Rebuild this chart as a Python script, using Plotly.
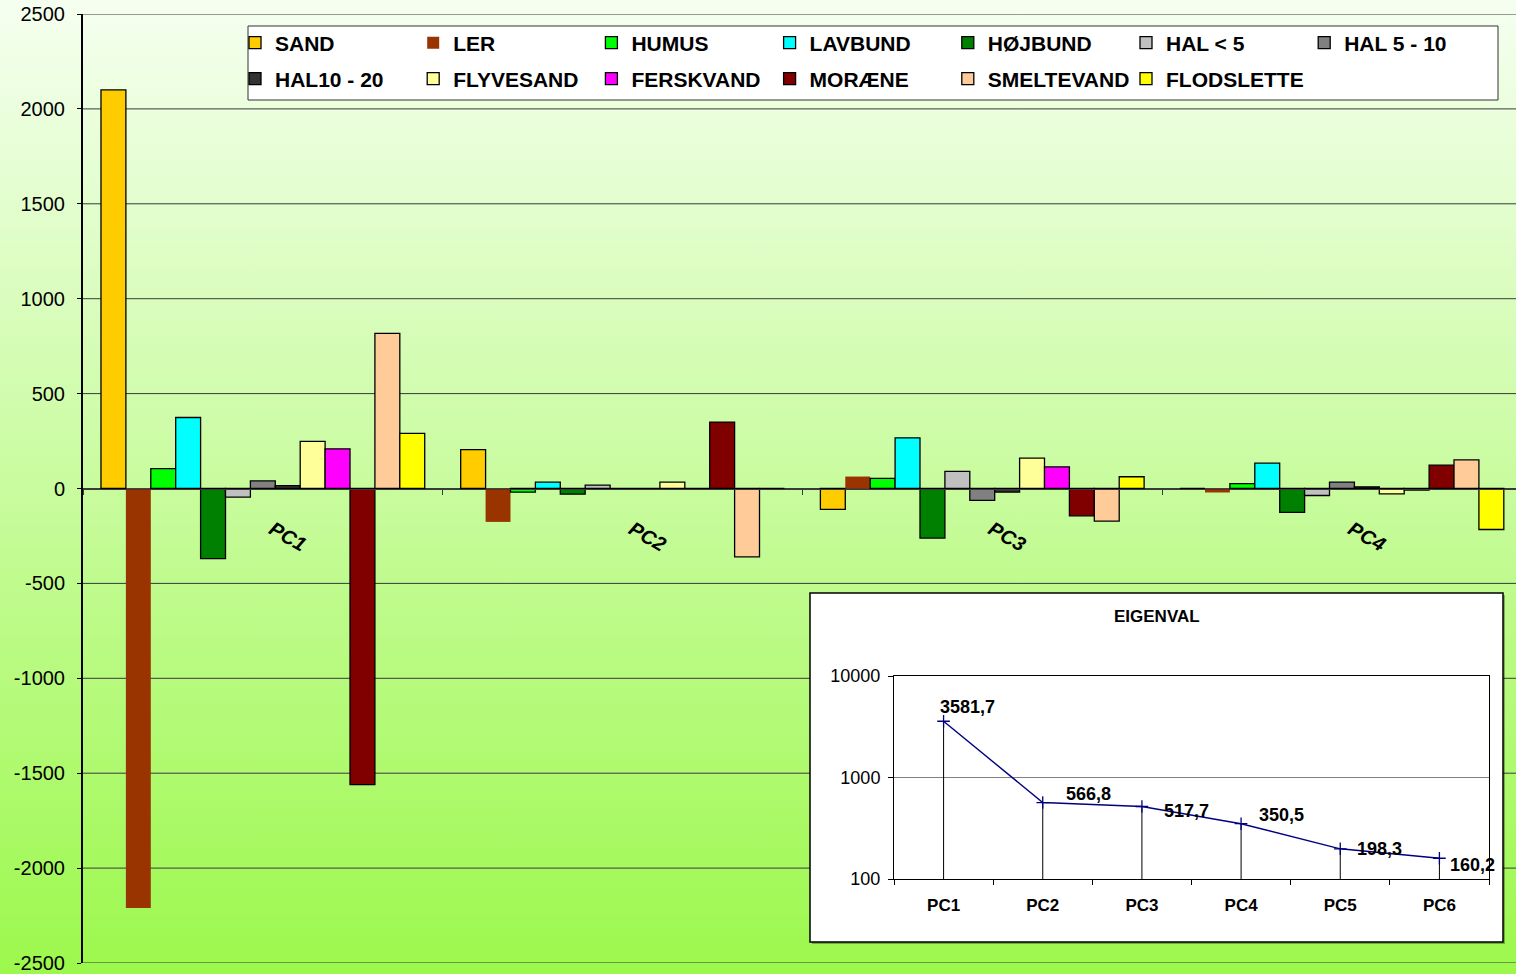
import base64
import math
import plotly.graph_objects as go

# ---------------- data ----------------
components = ["PC1", "PC2", "PC3", "PC4"]
series_names = ["SAND", "LER", "HUMUS", "LAVBUND", "HØJBUND", "HAL < 5", "HAL 5 - 10",
                "HAL10 - 20", "FLYVESAND", "FERSKVAND", "MORÆNE", "SMELTEVAND", "FLODSLETTE"]
sand = [2100, 205, -110, 0]
ler = [-2210, -176, 63, -21]
humus = [105, -19, 53, 26]
lavbund = [374, 34, 267, 134]
hojbund = [-369, -30, -261, -126]
hal_lt5 = [-45, 18, 90, -37]
hal_5_10 = [40, 0, -63, 34]
hal_10_20 = [15, 0, -19, 9]
flyvesand = [248, 34, 160, -28]
ferskvand = [209, 0, 114, -8]
moraene = [-1560, 350, -144, 123]
smeltevand = [817, -360, -172, 151]
flodslette = [290, 0, 62, -216]
series_values = [sand, ler, humus, lavbund, hojbund, hal_lt5, hal_5_10,
                 hal_10_20, flyvesand, ferskvand, moraene, smeltevand, flodslette]

y_ticks = [-2500, -2000, -1500, -1000, -500, 0, 500, 1000, 1500, 2000, 2500]
y_tick_labels = ["-2500", "-2000", "-1500", "-1000", "-500", "0", "500", "1000", "1500", "2000", "2500"]

eig_components = ["PC1", "PC2", "PC3", "PC4", "PC5", "PC6"]
eig_values = [3581.7, 566.8, 517.7, 350.5, 198.3, 160.2]
eig_ticks = [100, 1000, 10000]
eig_tick_labels = ["100", "1000", "10000"]

# ---------------- styles ----------------
colors = ["#FFCC00", "#993300", "#00FF00", "#00FFFF", "#008000", "#C0C0C0", "#808080",
          "#333333", "#FFFF99", "#FF00FF", "#800000", "#FFCC99", "#FFFF00"]
FONT = "Arial, Liberation Sans, sans-serif"
# data-label offsets (pixels) in the inset
label_xshift = [-6, 21, 20, 16, 15, 9]
label_yshift = [14, 9, -4, 9, 0, -7]

W, H = 1516, 974
ML, MR, MT, MB = 83, 0, 14, 11
PW, PH = W - ML - MR, H - MT - MB


def px_x(p):
    return (p - ML) / PW


def px_y(p):
    return (H - MB - p) / PH


# legend layout: 7 columns per row, split in groups of at most 4 entries
COL_W = 178.2
LEG_X0 = 235
ROW_Y = [43, 79]
legend_groups = {  # legend id -> (row, first column)
    "legend": (0, 0), "legend2": (0, 4), "legend3": (1, 0), "legend4": (1, 4)}


def legend_of(i):
    row, col = divmod(i, 7)
    return ("legend" if col < 4 else "legend2") if row == 0 else ("legend3" if col < 4 else "legend4")


fig = go.Figure()

for i, (name, vals, col) in enumerate(zip(series_names, series_values, colors)):
    fig.add_trace(go.Bar(
        name=name, x=components, y=vals, legend=legend_of(i),
        marker=dict(color=col, line=dict(color="black" if name != "LER" else col,
                                         width=1.3 if name != "LER" else 0)),
        xaxis="x", yaxis="y",
    ))

# eigenvalue inset
fig.add_trace(go.Scatter(
    x=eig_components, y=eig_values, xaxis="x2", yaxis="y2",
    mode="lines+markers", showlegend=False,
    line=dict(color="#000080", width=1.4),
    marker=dict(symbol="cross-thin", size=9, color="#000080",
                line=dict(color="#000080", width=1.3)),
    error_y=dict(type="data", symmetric=False, array=[0] * len(eig_values),
                 arrayminus=[v - eig_ticks[0] for v in eig_values],
                 color="black", thickness=1, width=0),
))

annotations = [dict(text="<b>EIGENVAL</b>", xref="paper", yref="paper",
                    x=px_x(1157), y=px_y(616), xanchor="center", yanchor="middle",
                    showarrow=False, font=dict(family=FONT, size=17, color="black"))]
for c, v, dx, dy in zip(eig_components, eig_values, label_xshift, label_yshift):
    annotations.append(dict(
        text="<b>" + f"{v:.1f}".replace(".", ",") + "</b>", xref="x2", yref="y2",
        x=c, y=math.log10(v), xanchor="left", yanchor="middle", xshift=dx, yshift=dy,
        showarrow=False, font=dict(family=FONT, size=18, color="black")))

# gradient background image
svg = ('<svg xmlns="http://www.w3.org/2000/svg" width="100" height="100" preserveAspectRatio="none">'
       '<defs><linearGradient id="g" x1="0" y1="0" x2="0" y2="1">'
       '<stop offset="0" stop-color="#F5FFF0"/><stop offset="1" stop-color="#9CF84C"/>'
       '</linearGradient></defs><rect width="100" height="100" fill="url(#g)"/></svg>')
src = "data:image/svg+xml;base64," + base64.b64encode(svg.encode()).decode()
fig.add_layout_image(dict(source=src, xref="paper", yref="paper",
                          x=-ML / PW, y=1 + MT / PH, sizex=W / PW, sizey=H / PH,
                          xanchor="left", yanchor="top", sizing="stretch", layer="below"))

shapes = []
for v in y_ticks:
    shapes.append(dict(type="line", xref="paper", yref="y", x0=0, x1=1, y0=v, y1=v,
                       line=dict(color="#3A3A3A", width=1), layer="below"))
# legend frame
shapes.append(dict(type="rect", xref="paper", yref="paper",
                   x0=px_x(248), x1=px_x(1498), y0=px_y(100), y1=px_y(26),
                   fillcolor="white", line=dict(color="#333333", width=1), layer="below"))
# inset frame with slight shadow
shapes.append(dict(type="rect", xref="paper", yref="paper",
                   x0=px_x(812), x1=px_x(1505), y0=px_y(944), y1=px_y(595),
                   fillcolor="rgba(0,0,0,0.3)", line=dict(width=0), layer="below"))
shapes.append(dict(type="rect", xref="paper", yref="paper",
                   x0=px_x(810), x1=px_x(1503), y0=px_y(942), y1=px_y(593),
                   fillcolor="white", line=dict(color="black", width=1.5), layer="below"))

legend_common = dict(orientation="h", xanchor="left", yanchor="middle",
                     bgcolor="rgba(0,0,0,0)", borderwidth=0,
                     entrywidth=COL_W - 45, entrywidthmode="pixels",
                     font=dict(family=FONT, size=21, weight="bold", color="black"),
                     itemwidth=30, traceorder="normal")
legends = {}
for lid, (row, col) in legend_groups.items():
    legends[lid] = dict(legend_common, x=px_x(LEG_X0 + col * COL_W), y=px_y(ROW_Y[row]))

NBSP = "\u00a0"
fig.update_layout(
    width=W, height=H,
    margin=dict(l=ML, r=MR, t=MT, b=MB, pad=0, autoexpand=False),
    paper_bgcolor="#CDFCAA", plot_bgcolor="rgba(0,0,0,0)",
    font=dict(family=FONT, color="black"),
    separators=",.",
    barmode="group", bargap=0.1, bargroupgap=0,
    shapes=shapes,
    xaxis=dict(domain=[0, 1], range=[-0.5, -0.5 + PW / 359.7], anchor="free",
               position=(0 - y_ticks[0]) / (y_ticks[-1] - y_ticks[0]),
               showline=True, linecolor="#3A3A3A", linewidth=1,
               ticks="outside", tickson="boundaries", ticklen=5, tickcolor="#3A3A3A",
               tickangle=30, showgrid=False, zeroline=False,
               tickvals=components, ticktext=[NBSP * 2 + c for c in components],
               tickfont=dict(family=FONT, size=20, weight="bold", style="italic"),
               ticklabelstandoff=15),
    yaxis=dict(domain=[0, 1], range=[y_ticks[0], y_ticks[-1]],
               tickvals=y_ticks, ticktext=y_tick_labels,
               showgrid=False, zeroline=False, showline=True, linecolor="black", linewidth=2,
               ticks="outside", ticklen=4, tickcolor="black", ticklabeloverflow="allow",
               tickfont=dict(family=FONT, size=20), ticklabelstandoff=8),
    xaxis2=dict(domain=[px_x(894), px_x(1489)], anchor="y2",
                range=[-0.5, len(eig_components) - 0.5],
                showline=True, mirror=True, linecolor="black", linewidth=1,
                ticks="outside", tickson="boundaries", ticklen=5, tickcolor="black",
                showgrid=False, zeroline=False,
                tickfont=dict(family=FONT, size=17, weight="bold"), ticklabelstandoff=11),
    yaxis2=dict(domain=[px_y(879), px_y(676)], anchor="x2", type="log",
                range=[2, 4], tickvals=eig_ticks, ticktext=eig_tick_labels,
                showline=True, mirror=True, linecolor="black", linewidth=1,
                showgrid=True, gridcolor="#808080", gridwidth=1,
                ticks="outside", ticklen=5, tickcolor="black", zeroline=False,
                tickfont=dict(family=FONT, size=18), ticklabelstandoff=4),
    annotations=annotations,
    showlegend=True,
    **legends,
)

fig.write_html("out.html", config={"displayModeBar": False},
               post_script="document.body.style.margin='0px';")
